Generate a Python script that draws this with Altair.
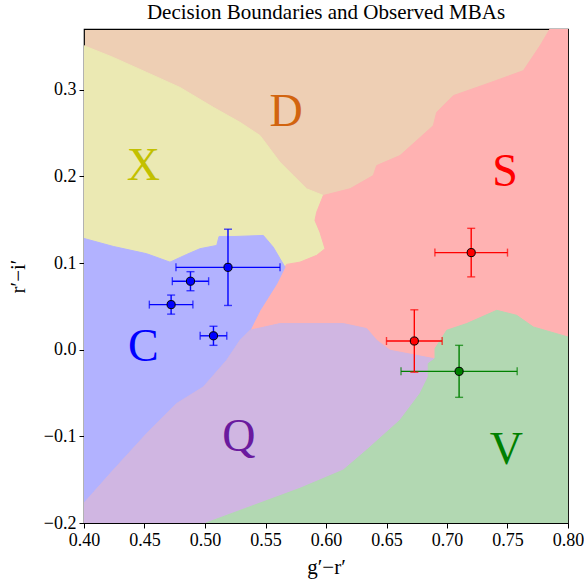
import altair as alt
import pandas as pd

# ---- region boundaries in (g'-r', r'-i') space ----
xd_edge = [(0.4000, 0.3507), (0.4242, 0.3372), (0.4518, 0.3199), (0.4793, 0.3026),
           (0.5069, 0.2796), (0.5289, 0.2623), (0.5455, 0.2470), (0.5537, 0.2317),
           (0.5620, 0.2162), (0.5730, 0.2009), (0.5840, 0.1856), (0.5978, 0.1779)]
xs_edge = [(0.5978, 0.1779), (0.5923, 0.1586), (0.5909, 0.1491), (0.5950, 0.1356),
           (0.5992, 0.1165), (0.5923, 0.1088), (0.5785, 0.1010), (0.5675, 0.0984),
           (0.5661, 0.0953)]
xc_edge = [(0.4000, 0.1283), (0.4242, 0.1191), (0.4518, 0.1107), (0.4711, 0.1010),
           (0.4849, 0.1099), (0.4959, 0.1165), (0.5097, 0.1203), (0.5116, 0.1306),
           (0.5248, 0.1306), (0.5482, 0.1318), (0.5564, 0.1183), (0.5620, 0.1050),
           (0.5661, 0.0953)]
cs_edge = [(0.5661, 0.0953), (0.5593, 0.0761), (0.5455, 0.0454), (0.5372, 0.0224)]
cq_edge = [(0.5372, 0.0224), (0.5289, 0.0108), (0.5179, -0.0122), (0.4986, -0.0430),
           (0.4766, -0.0621), (0.4518, -0.0967), (0.4242, -0.1389), (0.4000, -0.1770)]
qs_edge = [(0.5372, 0.0224), (0.5620, 0.0301), (0.6033, 0.0301), (0.6143, 0.0301),
           (0.6336, 0.0243), (0.6419, 0.0108), (0.6529, -0.0007), (0.6887, -0.0103)]
vs_edge = [(0.6901, -0.0103), (0.6901, 0.0013), (0.6998, 0.0224), (0.7163, 0.0301),
           (0.7411, 0.0454), (0.7576, 0.0396), (0.7713, 0.0262), (0.8000, 0.0146)]
qv_edge = [(0.6901, -0.0103), (0.6845, -0.0160), (0.6845, -0.0314), (0.6777, -0.0506),
           (0.6612, -0.0813), (0.6336, -0.1159), (0.6143, -0.1389), (0.5785, -0.1600),
           (0.5008, -0.2000)]
ds_edge = [(0.5978, 0.1779), (0.6198, 0.1856), (0.6391, 0.2009), (0.6419, 0.2124),
           (0.6612, 0.2240), (0.6887, 0.2585), (0.6915, 0.2739), (0.7052, 0.2931),
           (0.7328, 0.3066), (0.7631, 0.3219), (0.7769, 0.3507), (0.7851, 0.3700)]

X_MIN, X_MAX = 0.40, 0.80
Y_MIN, Y_MAX = -0.20, 0.37

x_ticks = [0.40, 0.45, 0.50, 0.55, 0.60, 0.65, 0.70, 0.75, 0.80]
y_ticks = [-0.2, -0.1, 0.0, 0.1, 0.2, 0.3]

rev = lambda seq: list(reversed(seq))

polygons = {
    "X": xd_edge + xs_edge + rev(xc_edge),
    "S": ds_edge + [(X_MAX, Y_MAX)] + rev(vs_edge) + rev(qs_edge) + rev(cs_edge) + rev(xs_edge),
    "C": xc_edge + cs_edge + cq_edge,
    "Q": rev(cq_edge) + qs_edge + qv_edge + [(X_MIN, Y_MIN)],
    "V": rev(qv_edge) + vs_edge + [(X_MAX, Y_MIN)],
}

region_fill = {"D": "#eecfb4", "X": "#ebe9b3", "S": "#ffb2b2",
               "C": "#b2b2ff", "Q": "#d0b6e2", "V": "#b2d8b2"}
label_color = {"D": "#d2640f", "X": "#c2c000", "S": "#ff0000",
               "C": "#0000ff", "Q": "#6a1a9e", "V": "#008000"}

# class labels
lab_name = ["D", "X", "S", "C", "Q", "V"]
lab_x = [0.567, 0.449, 0.748, 0.449, 0.528, 0.749]
lab_y = [0.274, 0.212, 0.205, 0.003, -0.101, -0.116]

# observed MBAs
obs_cls = ["C", "C", "C", "C", "S", "S", "V"]
obs_x = [0.519, 0.488, 0.472, 0.507, 0.720, 0.673, 0.710]
obs_y = [0.095, 0.079, 0.052, 0.016, 0.112, 0.010, -0.025]
obs_xerr = [0.043, 0.015, 0.018, 0.011, 0.030, 0.023, 0.048]
obs_yerr = [0.044, 0.011, 0.011, 0.011, 0.028, 0.036, 0.030]
obs_color = {"C": "#0000ff", "S": "#ff0000", "V": "#008000"}

FONT = "Liberation Serif"

xs = alt.Scale(domain=[X_MIN, X_MAX], nice=False, zero=False)
ys = alt.Scale(domain=[Y_MIN, Y_MAX], nice=False, zero=False)
x_axis = alt.Axis(values=x_ticks, format=".2f", title="g′−r′", titlePadding=7)
y_axis = alt.Axis(values=y_ticks, format=".1f", title="r′−i′", titlePadding=15)


def X_(field):
    return alt.X(field, type="quantitative", scale=xs, axis=x_axis)


def Y_(field):
    return alt.Y(field, type="quantitative", scale=ys, axis=y_axis)


layers = []
for name, pts in polygons.items():
    ring = pts + [pts[0]]
    df = pd.DataFrame({"x": [p[0] for p in ring], "y": [p[1] for p in ring],
                       "i": range(len(ring))})
    layers.append(
        alt.Chart(df).mark_line(fill=region_fill[name], stroke=region_fill[name],
                                strokeWidth=1, clip=True)
        .encode(x=X_("x"), y=Y_("y"), order="i:Q")
    )

labels = pd.DataFrame({"name": lab_name, "x": lab_x, "y": lab_y})
layers.append(
    alt.Chart(labels).mark_text(font=FONT, fontSize=46, baseline="middle", align="center")
    .encode(x=X_("x"), y=Y_("y"), text="name:N",
            color=alt.Color("name:N", scale=alt.Scale(domain=lab_name,
                            range=[label_color[n] for n in lab_name]), legend=None))
)

obs = pd.DataFrame({"cls": obs_cls, "x": obs_x, "y": obs_y,
                    "xerr": obs_xerr, "yerr": obs_yerr})
obs["xlo"] = obs["x"] - obs["xerr"]
obs["xhi"] = obs["x"] + obs["xerr"]
obs["ylo"] = obs["y"] - obs["yerr"]
obs["yhi"] = obs["y"] + obs["yerr"]

ccol = alt.Color("cls:N", scale=alt.Scale(domain=list(obs_color),
                 range=list(obs_color.values())), legend=None)
base = alt.Chart(obs)

layers += [
    base.mark_rule(strokeWidth=1.4).encode(x=X_("xlo"), x2="xhi", y=Y_("y"), color=ccol),
    base.mark_rule(strokeWidth=1.4).encode(x=X_("x"), y=Y_("ylo"), y2="yhi", color=ccol),
    base.mark_tick(orient="vertical", size=8, thickness=1.4).encode(x=X_("xlo"), y=Y_("y"), color=ccol),
    base.mark_tick(orient="vertical", size=8, thickness=1.4).encode(x=X_("xhi"), y=Y_("y"), color=ccol),
    base.mark_tick(orient="horizontal", size=8, thickness=1.4).encode(x=X_("x"), y=Y_("ylo"), color=ccol),
    base.mark_tick(orient="horizontal", size=8, thickness=1.4).encode(x=X_("x"), y=Y_("yhi"), color=ccol),
    base.mark_circle(size=66, opacity=1, stroke="black", strokeWidth=1).encode(
        x=X_("x"), y=Y_("y"), color=ccol),
]

chart = (
    alt.layer(*layers)
    .resolve_scale(color="independent")
    .properties(
        width=484, height=494,
        autosize=alt.AutoSizeParams(type="none"),
        padding={"left": 84, "top": 29, "right": 16, "bottom": 61},
        title=alt.TitleParams("Decision Boundaries and Observed MBAs", font=FONT,
                              fontSize=21, fontWeight="normal", color="black",
                              anchor="middle", offset=6),
    )
    .configure_view(fill=region_fill["D"], stroke="black", strokeWidth=1.2)
    .configure_axis(grid=False, domain=False, tickColor="black", tickSize=5,
                    labelFont=FONT, labelFontSize=18, labelColor="black",
                    labelFlush=False, labelOverlap=False, labelBound=False,
                    titleFont=FONT, titleFontSize=21, titleFontWeight="normal",
                    titleColor="black", labelPadding=3)
)

chart.save("out.html", embed_options={"renderer": "svg", "actions": False})
